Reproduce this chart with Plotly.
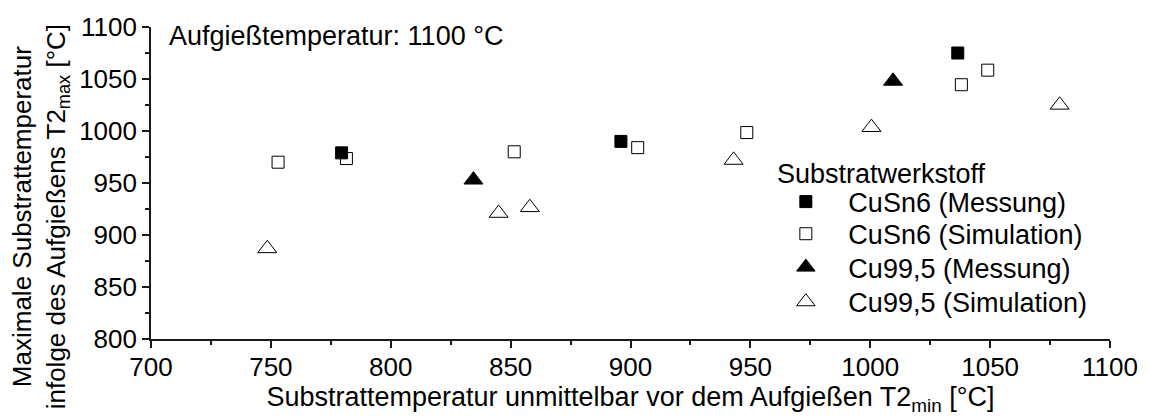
import plotly.graph_objects as go

# ---- data ----
cusn6_mess_x = [779.5, 896.0, 1036.5]
cusn6_mess_y = [979.0, 990.0, 1075.0]

cusn6_sim_x = [753.0, 781.5, 851.5, 903.0, 948.5, 1038.0, 1049.0]
cusn6_sim_y = [970.0, 973.5, 980.0, 984.0, 998.5, 1044.5, 1058.5]

cu995_mess_x = [834.5, 1009.5]
cu995_mess_y = [953.0, 1048.0]

cu995_sim_x = [748.5, 845.0, 858.0, 943.0, 1000.5, 1079.0]
cu995_sim_y = [887.0, 921.0, 926.5, 972.0, 1003.5, 1025.0]

series_names = ["CuSn6 (Messung)", "CuSn6 (Simulation)", "Cu99,5 (Messung)", "Cu99,5 (Simulation)"]

x_ticks = [700, 750, 800, 850, 900, 950, 1000, 1050, 1100]
y_ticks = [800, 850, 900, 950, 1000, 1050, 1100]

FONT = "Arial, Liberation Sans, sans-serif"
AX = "#1a1a1a"
TXT = 27
NB = "\u00a0\u00a0\u00a0"

fig = go.Figure()
fig.add_trace(go.Scatter(x=cusn6_mess_x, y=cusn6_mess_y, mode="markers",
                         name=NB + series_names[0], legend="legend",
                         marker=dict(symbol="square", size=12, color="black",
                                     line=dict(color="black", width=1))))
fig.add_trace(go.Scatter(x=cusn6_sim_x, y=cusn6_sim_y, mode="markers",
                         name=NB + series_names[1], legend="legend2",
                         marker=dict(symbol="square-open", size=12, color="black",
                                     line=dict(color="black", width=1))))
fig.add_trace(go.Scatter(x=cu995_mess_x, y=cu995_mess_y, mode="markers",
                         name=NB + series_names[2], legend="legend3",
                         marker=dict(symbol="triangle-up", size=16.5, color="black",
                                     line=dict(color="black", width=1))))
fig.add_trace(go.Scatter(x=cu995_sim_x, y=cu995_sim_y, mode="markers",
                         name=NB + series_names[3], legend="legend4",
                         marker=dict(symbol="triangle-up-open", size=16.5, color="black",
                                     line=dict(color="black", width=1))))

axis_common = dict(
    showline=True, linecolor=AX, linewidth=1.6,
    ticks="outside", ticklen=7, tickwidth=1.6, tickcolor=AX,
    showgrid=False, zeroline=False, mirror=False,
    tickfont=dict(family=FONT, size=26, color="black"),
    minor=dict(ticks="outside", ticklen=4, tickwidth=1.6, tickcolor=AX, dtick=25, showgrid=False),
)

fig.update_xaxes(range=[700, 1100], tickvals=x_ticks, ticktext=[str(v) for v in x_ticks],
                 ticklabelstandoff=-3,
                 title=dict(text="Substrattemperatur unmittelbar vor dem Aufgießen T2<sub>min</sub> [°C]",
                            font=dict(family=FONT, size=TXT, color="black"), standoff=2),
                 **axis_common)
fig.update_yaxes(range=[800, 1100], tickvals=y_ticks, ticktext=[str(v) for v in y_ticks],
                 **axis_common)

fig.add_annotation(text="Maximale Substrattemperatur<br>infolge des Aufgießens T2<sub>max</sub> [°C]",
                   textangle=-90, xref="paper", yref="paper",
                   x=-0.1151, y=0.392, xanchor="center", yanchor="middle",
                   showarrow=False, font=dict(family=FONT, size=26, color="black"))

fig.add_annotation(text="Aufgießtemperatur: 1100 °C", xref="paper", yref="paper",
                   x=0.0166, y=0.970, xanchor="left", yanchor="middle",
                   showarrow=False, font=dict(family=FONT, size=TXT, color="black"))

fig.add_annotation(text="Substratwerkstoff", xref="paper", yref="paper",
                   x=0.6504, y=0.5285, xanchor="left", yanchor="middle",
                   showarrow=False, font=dict(family=FONT, size=TXT, color="black"))

leg_common = dict(x=0.6620, xanchor="left", yanchor="middle",
                  bgcolor="rgba(0,0,0,0)", borderwidth=0,
                  font=dict(family=FONT, size=TXT, color="black"))
legend_y = [0.4390, 0.3360, 0.2290, 0.1180]

fig.update_layout(
    width=1150, height=418,
    margin=dict(l=151, r=35, t=23, b=79),
    paper_bgcolor="white", plot_bgcolor="white",
    font=dict(family=FONT, size=TXT, color="black"),
    showlegend=True,
    legend=dict(y=legend_y[0], **leg_common),
    legend2=dict(y=legend_y[1], **leg_common),
    legend3=dict(y=legend_y[2], **leg_common),
    legend4=dict(y=legend_y[3], **leg_common),
)

fig.write_html("out.html")
